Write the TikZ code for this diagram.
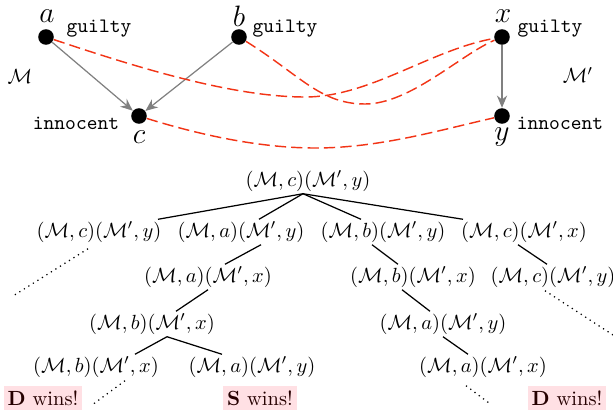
\documentclass[tikz,border=0pt]{standalone}
\usepackage{amsmath}
\usetikzlibrary{arrows.meta}

\definecolor{dashred}{RGB}{242,52,22}
\definecolor{winbg}{RGB}{255,224,228}

\newcommand{\mpair}[2]{$(\mathcal{M},#1)(\mathcal{M}',#2)$}

\begin{document}
\begin{tikzpicture}[x=0.488pt,y=-0.488pt,
    dot/.style={circle,fill,inner sep=0pt,minimum size=7.6pt},
    st/.style={inner sep=1pt},
    wlab/.style={inner sep=0pt},
    acc/.style={gray,line width=0.6pt,-{Stealth[length=6pt,width=5pt]}},
    match/.style={dashred,line width=0.7pt,dash pattern=on 5.5pt off 2.5pt},
    cont/.style={semithick,dotted},
    wins/.style={fill=winbg,text=black!85!red,inner sep=2pt}]

        \useasboundingbox (0,0) rectangle (613,414);

        % Model M
        \node[dot] (a) at (46,37) {};
        \node[dot] (b) at (239,37) {};
        \node[dot] (c) at (139,116) {};
        \node[wlab] (la) at (47,16) {\Large $a$};
        \node[wlab] (lb) at (239,16) {\Large $b$};
        \node[wlab] (lc) at (139,137) {\Large $c$};
        \node (ga) at (99,29) {\texttt{guilty}};
        \node (gb) at (285,29) {\texttt{guilty}};
        \node (ic) at (76,123) {\texttt{innocent}};
        \node (mm) at (20,76) {$\mathcal{M}$};
        \draw[acc] (a) -- (c);
        \draw[acc] (b) -- (c);

        % Model M'
        \node[dot] (x) at (502,37) {};
        \node[dot] (y) at (502,116) {};
        \node[wlab] (lx) at (503,16) {\Large $x$};
        \node[wlab] (ly) at (502,137) {\Large $y$};
        \node (gx) at (550,29) {\texttt{guilty}};
        \node (iy) at (560,123) {\texttt{innocent}};
        \node (mp) at (578,75) {$\mathcal{M}'$};
        \draw[acc] (x) -- (y);

        % Bisimulation links
        \coordinate (ax) at (305,97);
        \coordinate (bx) at (365,104);
        \coordinate (cy) at (315,148);
        \draw[match] (a) .. controls (130,65) and (230,97) .. (ax)
                         .. controls (370,97) and (430,50) .. (x);
        \draw[match] (b) .. controls (300,75) and (320,104) .. (bx)
                         .. controls (410,104) and (460,55) .. (x);
        \draw[match] (c) .. controls (200,135) and (260,148) .. (cy)
                         .. controls (380,148) and (440,130) .. (y);

        % Game tree
        \node[st] (root) at (308,181) {\mpair{c}{y}};
        \node[st] (l1a) at (99,232) {\mpair{c}{y}};
        \node[st] (l1b) at (241,232) {\mpair{a}{y}};
        \node[st] (l1c) at (383,232) {\mpair{b}{y}};
        \node[st] (l1d) at (524,232) {\mpair{c}{x}};
        \node[st] (l2a) at (208,277) {\mpair{a}{x}};
        \node[st] (l2b) at (413,277) {\mpair{b}{x}};
        \node[st] (l2c) at (553,277) {\mpair{c}{y}};
        \node[st] (l3a) at (152,324) {\mpair{b}{x}};
        \node[st] (l3b) at (443,324) {\mpair{a}{y}};
        \node[st] (l4a) at (96,367) {\mpair{b}{x}};
        \node[st] (l4b) at (252,367) {\mpair{a}{y}};
        \node[st] (l4c) at (483,367) {\mpair{a}{x}};

        \draw[semithick] ([shift={(-5,0)}]root.south) -- ([shift={(59,0)}]l1a.north);
        \draw[semithick] ([shift={(-5,0)}]root.south) -- ([shift={(18,0)}]l1b.north);
        \draw[semithick] ([shift={(-5,0)}]root.south) -- ([shift={(-22,0)}]l1c.north);
        \draw[semithick] ([shift={(-5,0)}]root.south) -- ([shift={(-61,0)}]l1d.north);
        \draw[semithick] ([shift={(20,0)}]l1b.south) -- ([shift={(17,0)}]l2a.north);
        \draw[semithick] ([shift={(-11,0)}]l1c.south) -- ([shift={(-15,0)}]l2b.north);
        \draw[semithick] ([shift={(-6,0)}]l1d.south) -- ([shift={(-6,0)}]l2c.north);
        \draw[semithick] (l2a.south) -- ([shift={(24,0)}]l3a.north);
        \draw[semithick] ([shift={(-11,0)}]l2b.south) -- ([shift={(-13,0)}]l3b.north);
        \draw[semithick] ([shift={(15,0)}]l3a.south) -- ([shift={(39,0)}]l4a.north);
        \draw[semithick] ([shift={(15,0)}]l3a.south) -- ([shift={(-30,0)}]l4b.north);
        \draw[semithick] (l3b.south) -- ([shift={(-15,0)}]l4c.north);

        % Outcomes
        \node[wins] (w1) at (43,398) {\textbf{D} wins!};
        \node[wins] (w2) at (260,398) {\textbf{S} wins!};
        \node[wins] (w3) at (567,398) {\textbf{D} wins!};

        % Unfinished branches
        \coordinate (e1) at (13,296);
        \coordinate (e2) at (613,335);
        \coordinate (e3) at (92,405);
        \coordinate (e4) at (489,403);
        \draw[cont] ([shift={(-11,4)}]l1a.south) -- (e1);
        \draw[cont] ([shift={(-8,1)}]l2c.south) -- (e2);
        \draw[cont] ([shift={(29,1)}]l4a.south) -- (e3);
        \draw[cont] ([shift={(-17,6)}]l4c.south) -- (e4);

    \end{tikzpicture}
\end{document}
